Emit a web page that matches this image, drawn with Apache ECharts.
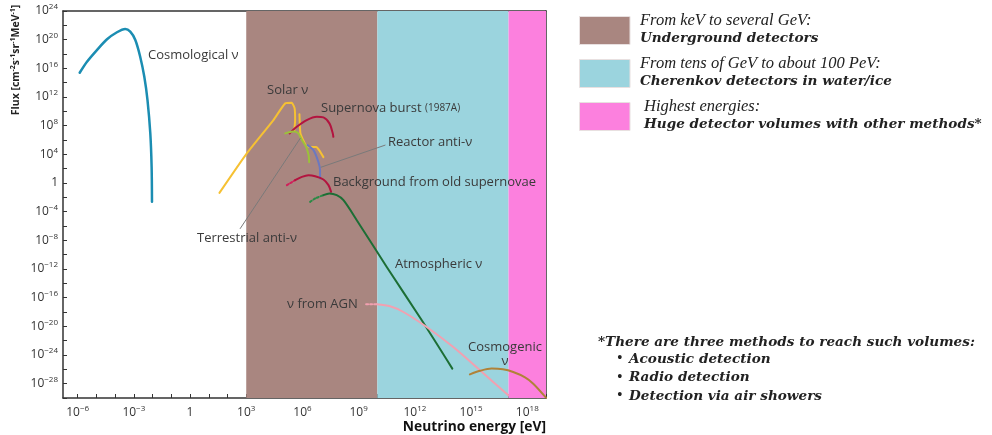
<!DOCTYPE html>
<html><head><meta charset="utf-8">
<script src="https://cdn.jsdelivr.net/npm/echarts@6/dist/echarts.min.js"></script>
<style>html,body{margin:0;padding:0;background:#fff}#c{width:992px;height:435px}</style>
</head><body><div id="c"></div>
<script>
// ---- axis ticks (log10 exponents) ----
const xTickExps = [-6,-5,-4,-3,-2,-1,0,1,2,3,4,5,6,7,8,9,10,11,12,13,14,15,16,17,18,19];
const xLabelExps = [-6,-3,0,3,6,9,12,15,18];
const yLabelExps = [-28,-24,-20,-16,-12,-8,-4,0,4,8,12,16,20,24];

// ---- detector bands (log10 eV) ----
const bandEdges = [3, 10, 17, 19];
const bandColors = ['#a98680', '#9bd4de', '#fc80de'];

// ---- curves: log10(E/eV) and log10(flux) ----
const cosmoLogE = [-5.89,-5.50,-4.97,-4.43,-3.90,-3.46,-3.19,-2.92,-2.66,-2.44,-2.27,-2.12,-2.05,-2.03];
const cosmoLogF = [15.38,16.92,18.55,20.05,21.03,21.49,21.11,19.95,17.62,14.82,11.57,6.92,2.25,-2.63];

const solarLogE = [1.57,3.03,4.45,5.08,5.43,5.58,5.61,5.56];
const solarLogF = [-1.38,4.13,8.78,11.11,11.19,10.45,8.78,7.24];
const solar2LogE = [5.84,5.89,6.04,6.18,6.41,6.73,6.89,7.12];
const solar2LogF = [9.61,6.96,5.98,5.28,5.01,5.01,4.59,3.61];

const snBurstLogE = [5.31,5.70,6.23,6.77,7.12,7.44,7.62,7.65];
const snBurstLogF = [6.92,7.84,8.78,9.24,9.15,8.32,6.92,6.44];

const terrLogE = [5.08,5.50,5.77,5.98,6.20,6.33,6.36];
const terrLogF = [6.92,7.17,6.96,5.98,5.01,3.89,2.91];

const reactorLogE = [6.27,6.59,6.85,6.94,6.94];
const reactorLogF = [5.29,4.59,2.95,1.79,0.63];

const bgSnDotLogE = [5.17,5.61];
const bgSnDotLogF = [-0.30,0.40];
const bgSnLogE = [5.61,5.97,6.32,6.68,7.12,7.39,7.53];
const bgSnLogF = [0.40,0.86,1.09,0.95,0.49,-0.30,-1.24];

const atmoDotLogE = [6.41,6.68,7.12];
const atmoDotLogF = [-2.63,-2.16,-1.70];
const atmoLogE = [7.12,7.44,7.83,8.19,8.90,10.50,12.37,14.00];
const atmoLogF = [-1.70,-1.46,-1.70,-2.40,-5.19,-11.71,-19.16,-25.90];

const agnDotLogE = [9.40,9.97];
const agnDotLogF = [-16.92,-16.92];
const agnLogE = [9.97,10.68,11.39,12.63,14.05,15.48,16.99];
const agnLogF = [-16.92,-17.20,-18.00,-20.09,-22.89,-26.14,-29.63];

const cosmogLogE = [14.94,15.48,16.10,16.70,17.25,17.88,18.32,19.00];
const cosmogLogF = [-26.70,-26.21,-25.90,-26.00,-26.38,-27.12,-28.00,-29.95];

// leader lines
const reactorLeadLogE = [10.41,7.00];
const reactorLeadLogF = [5.28,2.21];
const terrLeadLogE = [2.68,5.88];
const terrLeadLogF = [-6.35,6.22];

// ---- texts ----
const legendLines = [
  ['From keV to several GeV:', 'Underground detectors'],
  ['From tens of GeV to about 100 PeV:', 'Cherenkov detectors in water/ice'],
  ['Highest energies:', 'Huge detector volumes with other methods*']
];
const noteTitle = '*There are three methods to reach such volumes:';
const noteItems = ['Acoustic detection', 'Radio detection', 'Detection via air showers'];

const SANS = '"Open Sans", "DejaVu Sans", sans-serif';
const SERIF = '"Liberation Serif", "DejaVu Serif", serif';
const SERIFB = '"DejaVu Serif", "Liberation Serif", serif';

function pts(xs, ys) { return xs.map((x, i) => [x, ys[i]]); }
function pow10(v) {
  if (v === 0) return '{b|1}';
  return '{b|10}{s|' + (v < 0 ? '\u2212' + (-v) : v) + '}';
}
const richLab = {
  b: {fontSize: 12, fontFamily: SANS, color: '#333', lineHeight: 16},
  s: {fontSize: 8, fontFamily: SANS, color: '#333', lineHeight: 8, verticalAlign: 'top'}
};
function curve(xs, ys, color, width, dotted, smooth) {
  return {
    type: 'line', data: pts(xs, ys), showSymbol: false, symbol: 'none',
    smooth: smooth == null ? 0.3 : smooth, z: 3, silent: true,
    lineStyle: {color: color, width: width, type: dotted ? 'dotted' : 'solid', cap: 'round', join: 'round'}
  };
}

const series = [
  {
    type: 'line', data: [], z: 1, silent: true,
    markArea: {
      silent: true,
      data: bandColors.map((c, i) => [
        {xAxis: bandEdges[i], itemStyle: {color: c, opacity: 1}},
        {xAxis: bandEdges[i + 1]}
      ])
    }
  },
  curve(cosmoLogE, cosmoLogF, '#1b8db2', 2.5, false, 0.3),
  curve(solarLogE, solarLogF, '#f6c133', 2, false, 0.15),
  curve(solar2LogE, solar2LogF, '#f6c133', 2, false, 0.15),
  curve(snBurstLogE, snBurstLogF, '#b3143f', 2, false, 0.3),
  curve(terrLogE, terrLogF, '#9cc13a', 2, false, 0.2),
  curve(reactorLogE, reactorLogF, '#6b78c0', 2, false, 0.3),
  curve(bgSnDotLogE, bgSnDotLogF, '#d0205a', 2, true, 0),
  curve(bgSnLogE, bgSnLogF, '#b3143f', 2, false, 0.3),
  curve(atmoDotLogE, atmoDotLogF, '#2a8a45', 2, true, 0.3),
  curve(atmoLogE, atmoLogF, '#1c6e35', 2, false, 0.3),
  curve(agnDotLogE, agnDotLogF, '#f2a0b0', 2, true, 0),
  curve(agnLogE, agnLogF, '#f2a0b0', 2, false, 0.3),
  curve(cosmogLogE, cosmogLogF, '#b08238', 2, false, 0.3),
  curve(reactorLeadLogE, reactorLeadLogF, '#7a7a7a', 1, false, 0),
  curve(terrLeadLogE, terrLeadLogF, '#7a7a7a', 1, false, 0)
];

function label(text, x, y, opts) {
  return Object.assign({
    type: 'text', x: x, y: y, z: 10, silent: true,
    style: Object.assign({text: text, fontFamily: SANS, fontSize: 13, fill: '#3a3a3a',
      align: 'left', verticalAlign: 'middle', textAlign: 'left', textVerticalAlign: 'middle'}, opts || {})
  });
}

const graphic = [
  label('Cosmological \u03bd', 148, 55),
  label('Solar \u03bd', 267, 90),
  label('{a|Supernova burst} {b|(1987A)}', 321, 108, {rich: {
    a: {fontFamily: SANS, fontSize: 13, fill: '#3a3a3a'},
    b: {fontFamily: SANS, fontSize: 10, fill: '#3a3a3a'}}}),
  label('Reactor anti-\u03bd', 388, 142),
  label('Background from old supernovae', 333, 182),
  label('Terrestrial anti-\u03bd', 297, 238, {align: 'right', textAlign: 'right'}),
  label('Atmospheric \u03bd', 395, 264),
  label('\u03bd from AGN', 287, 304),
  label('Cosmogenic\n\u03bd', 505, 354, {align: 'center', textAlign: 'center', lineHeight: 14}),
  // axis titles
  {
    type: 'text', x: 16, y: 60, rotation: Math.PI / 2, z: 10, silent: true,
    style: {
      text: '{t|Flux [cm}{s|-2}{t|s}{s|-1}{t|sr}{s|-1}{t|MeV}{s|-1}{t|]}',
      align: 'center', verticalAlign: 'middle', textAlign: 'center', textVerticalAlign: 'middle',
      rich: {
        t: {fontFamily: SANS, fontWeight: 'bold', fontSize: 10.5, fill: '#222', lineHeight: 14},
        s: {fontFamily: SANS, fontWeight: 'bold', fontSize: 7, fill: '#222', lineHeight: 7, verticalAlign: 'top'}
      }
    }
  },
  label('Neutrino energy [eV]', 546, 427, {align: 'right', textAlign: 'right', fontWeight: 'bold', fontSize: 13.8, fill: '#111'})
];

// legend
const boxTops = [16, 59, 102];
legendLines.forEach((ln, i) => {
  graphic.push({type: 'rect', z: 10, silent: true,
    shape: {x: 579.5, y: boxTops[i] + 0.5, width: 50.5, height: 28},
    style: {fill: bandColors[i], stroke: '#e8e0e0', lineWidth: 1}});
  graphic.push(label(ln[0], i === 2 ? 644 : 640, boxTops[i] + 5, {fontFamily: SERIF, fontStyle: 'italic', fontSize: 16.5, fill: '#222'}));
  graphic.push(label(ln[1], i === 2 ? 644 : 640, boxTops[i] + 22.5, {fontFamily: SERIFB, fontStyle: 'italic', fontWeight: 'bold', fontSize: 13.6, fill: '#222'}));
});
graphic.push(label(noteTitle, 598, 342, {fontFamily: SERIFB, fontStyle: 'italic', fontWeight: 'bold', fontSize: 13.6, fill: '#222'}));
noteItems.forEach((t, i) => {
  graphic.push(label('\u2022', 617, 359 + i * 18.5, {fontFamily: SERIF, fontSize: 16, fill: '#222'}));
  graphic.push(label(t, 629, 359 + i * 18.5, {fontFamily: SERIFB, fontStyle: 'italic', fontWeight: 'bold', fontSize: 13.6, fill: '#222'}));
});

const axisLineStyle = {color: '#333', width: 1.5};
const option = {
  animation: false,
  backgroundColor: '#fff',
  grid: {left: 63, right: 446, top: 11, bottom: 37},
  xAxis: [{
    type: 'value', min: -6.78, max: 19,
    axisLine: {onZero: false, lineStyle: axisLineStyle},
    axisTick: {inside: true, length: 4, customValues: xTickExps, lineStyle: {color: '#333'}},
    axisLabel: {customValues: xLabelExps, formatter: pow10, margin: 7, rich: richLab},
    splitLine: {show: false}
  }, {
    type: 'value', position: 'top', min: -6.78, max: 19,
    axisLine: {show: true, onZero: false, lineStyle: axisLineStyle}, axisTick: {show: false},
    axisLabel: {show: false}, splitLine: {show: false}
  }],
  yAxis: [{
    type: 'value', min: -30, max: 24, interval: 2,
    axisLine: {onZero: false, lineStyle: axisLineStyle},
    axisTick: {inside: true, length: 4, lineStyle: {color: '#333'}},
    axisLabel: {customValues: yLabelExps, formatter: pow10, margin: 5, rich: richLab},
    splitLine: {show: false}
  }, {
    type: 'value', position: 'right', min: -30, max: 24,
    axisLine: {show: true, onZero: false, lineStyle: axisLineStyle}, axisTick: {show: false},
    axisLabel: {show: false}, splitLine: {show: false}
  }],
  series: series,
  graphic: graphic
};
const chart = echarts.init(document.getElementById('c'), null, {renderer: 'canvas'});
chart.setOption(option);
</script></body></html>
